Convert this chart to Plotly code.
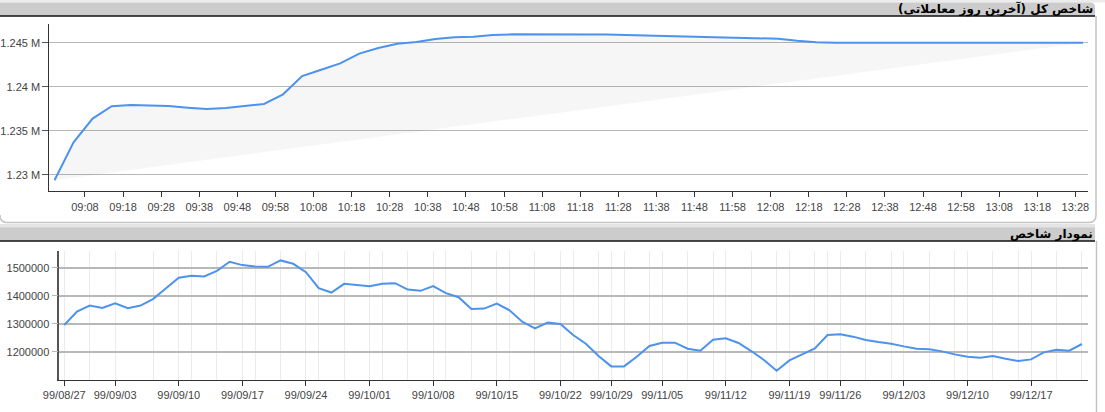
import plotly.graph_objects as go

W, H = 1105, 412

# ---------------- data ----------------
intraday_times = [
    "09:00", "09:05", "09:10", "09:15", "09:20", "09:25", "09:30", "09:35", "09:40", "09:45",
    "09:50", "09:55", "10:00", "10:05", "10:10", "10:15", "10:20", "10:25", "10:30", "10:35",
    "10:40", "10:45", "10:50", "10:55", "11:00", "11:05", "11:10", "11:15", "11:20", "11:25",
    "11:30", "11:35", "11:40", "11:45", "11:50", "11:55", "12:00", "12:05", "12:10", "12:15",
    "12:20", "12:25", "12:30", "12:35", "12:40", "12:45", "12:50", "12:55", "13:00", "13:05",
    "13:10", "13:15", "13:20", "13:25", "13:30",
]
intraday_values = [
    1229400, 1233700, 1236400, 1237800, 1237950, 1237870, 1237820, 1237630, 1237480, 1237600,
    1237790, 1238050, 1239150, 1241220, 1241940, 1242660, 1243760, 1244400, 1244890, 1245080,
    1245420, 1245610, 1245680, 1245870, 1245950, 1245960, 1245960, 1245930, 1245910, 1245930,
    1245880, 1245830, 1245780, 1245730, 1245690, 1245650, 1245610, 1245560, 1245450, 1245220,
    1245050, 1245010, 1245000, 1245000, 1245000, 1245000, 1245000, 1245000, 1245000, 1245000,
    1245000, 1245000, 1245000, 1245000, 1245000,
]
intraday_ytick_vals = [1230000, 1235000, 1240000, 1245000]
intraday_ytick_text = ["1.23 M", "1.235 M", "1.24 M", "1.245 M"]

daily_values = [
    1295700, 1343500, 1365000, 1356600, 1373400, 1355400, 1365000, 1388900, 1427100, 1464200,
    1471300, 1468900, 1489200, 1521500, 1509600, 1504800, 1503600, 1526300, 1514300, 1484500,
    1427100, 1411600, 1442700, 1437900, 1434300, 1442700, 1445000, 1422300, 1417600, 1434300,
    1409200, 1394900, 1353000, 1354200, 1372200, 1348300, 1307600, 1283800, 1304000, 1299300,
    1259900, 1228800, 1184600, 1147600, 1147600, 1182200, 1220400, 1232400, 1232400, 1210900,
    1203700, 1243100, 1247900, 1231200, 1202500, 1170300, 1132000, 1169100, 1191800, 1212100,
    1259900, 1262300, 1253900, 1242000, 1234800, 1228800, 1219200, 1210900, 1208500, 1201300,
    1190600, 1182200, 1178600, 1184600, 1175000, 1166700, 1172600, 1197800, 1207300, 1203700,
    1227600,
]
daily_tick_index = [0, 4, 9, 14, 19, 24, 29, 34, 39, 43, 47, 52, 57, 61, 66, 71, 76]
daily_tick_labels = ["99/08/27", "99/09/03", "99/09/10", "99/09/17", "99/09/24", "99/10/01",
                     "99/10/08", "99/10/15", "99/10/22", "99/10/29", "99/11/05", "99/11/12",
                     "99/11/19", "99/11/26", "99/12/03", "99/12/10", "99/12/17"]
daily_minor_grid = [0, 2, 4, 7, 9, 10, 12, 14, 15, 17, 19, 20, 22, 24, 25, 27, 29, 30, 32, 34,
                    35, 37, 39, 40, 42, 43, 44, 46, 47, 49, 51, 52, 54, 56, 57, 59, 60, 61, 63,
                    65, 66, 68, 70, 71, 73, 75, 76, 78, 80]
daily_ytick_vals = [1200000, 1300000, 1400000, 1500000]

title_top = "\u200fشاخص کل (آخرین روز معاملاتی)\u200f"
title_bottom = "نمودار شاخص"

DAY = "2021-03-15 "

# ---------------- helpers (pixel -> paper) ----------------
def px(x):
    return x / W

def py(y):
    return 1 - y / H

LINE = "#4d93ec"
TICKFONT = dict(family="Liberation Sans, Arial, sans-serif", size=11, color="#444444")
TITLEFONT = dict(family="DejaVu Sans, sans-serif", size=12, color="#000000", weight="bold")

fig = go.Figure()

fig.add_trace(go.Scatter(
    x=[DAY + t for t in intraday_times], y=intraday_values,
    mode="lines", line=dict(color=LINE, width=2),
    fill="toself", fillcolor="rgba(0,0,0,0.035)",
    xaxis="x", yaxis="y", showlegend=False, hoverinfo="x+y",
))

fig.add_trace(go.Scatter(
    x=list(range(len(daily_values))), y=daily_values,
    mode="lines", line=dict(color=LINE, width=2),
    xaxis="x2", yaxis="y2", showlegend=False,
))

shapes = []
# top light strip
shapes.append(dict(type="rect", xref="paper", yref="paper", x0=px(0), x1=px(W), y0=py(2.5), y1=py(0),
                   fillcolor="#ececec", line=dict(width=0), layer="below"))
# title bar 1 (rounded top-right corner)
shapes.append(dict(type="path", xref="paper", yref="paper", layer="below",
                   path=f"M {px(0)},{py(2.5)} L {px(1090)},{py(2.5)} Q {px(1095)},{py(2.5)} {px(1095)},{py(7)} "
                        f"L {px(1095)},{py(16)} L {px(0)},{py(16)} Z",
                   fillcolor="#cccccc", line=dict(width=0)))
# panel 1 border (right + bottom, rounded corners)
shapes.append(dict(type="path", xref="paper", yref="paper", layer="below",
                   path=f"M {px(1096)},{py(16)} L {px(1096)},{py(215)} Q {px(1096)},{py(222.5)} {px(1089)},{py(222.5)} "
                        f"L {px(7)},{py(222.5)} Q {px(0)},{py(222.5)} {px(0)},{py(215)}",
                   line=dict(color="#c4c4c4", width=1.5)))
# gray gap + title bar 2
shapes.append(dict(type="rect", xref="paper", yref="paper", x0=px(0), x1=px(1095), y0=py(241), y1=py(224.5),
                   fillcolor="#cccccc", line=dict(width=0), layer="below"))
shapes.append(dict(type="rect", xref="paper", yref="paper", x0=px(0), x1=px(1095), y0=py(227.5), y1=py(224.5),
                   fillcolor="#e4e4e4", line=dict(width=0), layer="below"))
# black underlines
for yy in (16, 241):
    shapes.append(dict(type="line", xref="paper", yref="paper", x0=px(0), x1=px(1095), y0=py(yy), y1=py(yy),
                       line=dict(color="#111111", width=1.5), layer="below"))
# panel 2 right border
shapes.append(dict(type="line", xref="paper", yref="paper", x0=px(1096.5), x1=px(1096.5), y0=py(241), y1=py(412),
                   line=dict(color="#c4c4c4", width=1.5), layer="below"))

annotations = [
    dict(text=title_top, xref="paper", yref="paper", x=px(1095), y=py(9), xanchor="right", yanchor="middle",
         showarrow=False, font=TITLEFONT),
    dict(text=title_bottom, xref="paper", yref="paper", x=px(1095), y=py(234), xanchor="right", yanchor="middle",
         showarrow=False, font=TITLEFONT),
]

fig.update_layout(
    width=W, height=H,
    margin=dict(l=0, r=0, t=0, b=0, autoexpand=False),
    paper_bgcolor="white", plot_bgcolor="rgba(0,0,0,0)",
    shapes=shapes, annotations=annotations,
    xaxis=dict(
        domain=[px(49.3), px(1087.7)], anchor="y", type="date", automargin=False,
        range=[DAY + "08:58:38", DAY + "13:31:14"],
        tickmode="linear", tick0=DAY + "09:08", dtick=600000, tickformat="%H:%M",
        showgrid=False, showline=True, linecolor="#333333", linewidth=1,
        ticks="outside", ticklen=5, tickcolor="#333333", tickfont=TICKFONT, zeroline=False,
    ),
    yaxis=dict(
        domain=[py(191.3), py(24.3)], anchor="x", automargin=False,
        range=[1228150, 1247090],
        tickmode="array", tickvals=intraday_ytick_vals, ticktext=intraday_ytick_text,
        showgrid=True, gridcolor="#b8b8b8", gridwidth=1.2,
        showline=True, linecolor="#333333", linewidth=1,
        ticks="outside", ticklen=6, tickcolor="#555555", tickfont=TICKFONT, zeroline=False,
    ),
    xaxis2=dict(
        domain=[px(59.3), px(1087.7)], anchor="y2", automargin=False,
        range=[-0.39, 80.45],
        tickmode="array", tickvals=daily_tick_index, ticktext=daily_tick_labels,
        showgrid=False,
        minor=dict(tickmode="array", tickvals=daily_minor_grid, showgrid=True,
                   gridcolor="#ebebeb", gridwidth=1, ticks=""),
        showline=True, linecolor="#333333", linewidth=1,
        ticks="outside", ticklen=5, tickcolor="#333333", tickfont=TICKFONT, zeroline=False,
    ),
    yaxis2=dict(
        domain=[py(380), py(251)], anchor="x2", automargin=False,
        range=[1099000, 1560000],
        tickmode="array", tickvals=daily_ytick_vals, ticktext=[str(v) for v in daily_ytick_vals],
        showgrid=True, gridcolor="#b8b8b8", gridwidth=1.5,
        showline=True, linecolor="#555555", linewidth=1.5,
        ticks="outside", ticklen=6, tickcolor="#b8b8b8", tickfont=TICKFONT, zeroline=False,
    ),
)

fig.write_html("out.html", config={"displayModeBar": False},
               post_script="document.body.style.margin='0';document.body.style.overflow='hidden';")
